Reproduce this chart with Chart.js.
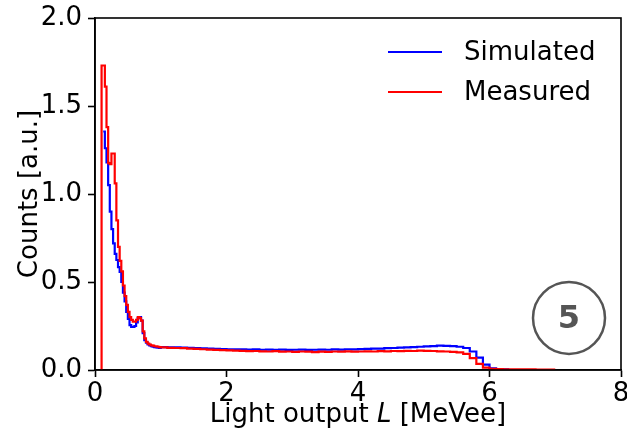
<!DOCTYPE html>
<html>
<head>
<meta charset="utf-8">
<script src="https://cdn.jsdelivr.net/npm/chart.js@4.4.1/dist/chart.umd.min.js"></script>
<style>
  html, body { margin: 0; padding: 0; background: #fff; }
  canvas { display: block; }
</style>
</head>
<body>
<canvas id="lightChart" width="627" height="435"></canvas>
<script>
// bin edges in MeVee (left edge of every bin, last value closes the last bin)
const binEdges = [
  0.09, 0.1, 0.125, 0.15, 0.175, 0.2, 0.225, 0.25, 0.275, 0.3, 0.325, 0.35, 0.375,
  0.4, 0.425, 0.45, 0.475, 0.5, 0.525, 0.55, 0.575, 0.6, 0.625, 0.65, 0.675, 0.7,
  0.725, 0.75, 0.775, 0.8, 0.825, 0.85, 0.875, 0.9, 0.925, 0.95, 0.975,
  1.0, 1.1, 1.2, 1.3, 1.4, 1.5, 1.6, 1.7, 1.8, 1.9,
  2.0, 2.1, 2.2, 2.3, 2.4, 2.5, 2.6, 2.7, 2.8, 2.9,
  3.0, 3.1, 3.2, 3.3, 3.4, 3.5, 3.6, 3.7, 3.8, 3.9,
  4.0, 4.1, 4.2, 4.3, 4.4, 4.5, 4.6, 4.7, 4.8, 4.9,
  5.0, 5.1, 5.2, 5.3, 5.4, 5.5, 5.6, 5.7, 5.8, 5.9,
  6.0, 6.1, 6.2, 6.3, 6.4, 6.5, 6.6, 6.7, 6.8, 6.9,
  7.0
];

// counts per bin
const simulated = [
  null,
  null, 1.355, 1.26, 1.18, 1.05, 0.90, 0.80, 0.72, 0.66, 0.625, 0.585, 0.557,
  0.50, 0.44, 0.39, 0.33, 0.29, 0.255, 0.245, 0.245, 0.25, 0.27, 0.295, 0.30, 0.28,
  0.21, 0.17, 0.155, 0.145, 0.14, 0.135, 0.132, 0.13, 0.128, 0.127, 0.126,
  0.13, 0.129, 0.128, 0.127, 0.126, 0.124, 0.123, 0.121, 0.12, 0.119,
  0.118, 0.117, 0.118, 0.116, 0.117, 0.115, 0.116, 0.115, 0.116, 0.114,
  0.115, 0.116, 0.114, 0.115, 0.116, 0.115, 0.117, 0.116, 0.118, 0.117,
  0.119, 0.12, 0.121, 0.122, 0.124, 0.125, 0.127, 0.129, 0.13, 0.132,
  0.134, 0.136, 0.138, 0.137, 0.136, 0.132, 0.125, 0.105, 0.07, 0.03,
  0.01, 0.005, 0.003, null, null, null, null, null, null, null
];

const measured = [
  0,
  1.73, 1.73, 1.61, 1.38, 1.175, 1.17, 1.23, 1.23, 1.06, 0.85, 0.70, 0.62,
  0.56, 0.48, 0.42, 0.37, 0.33, 0.30, 0.285, 0.275, 0.275, 0.285, 0.30, 0.295, 0.28,
  0.22, 0.18, 0.16, 0.15, 0.145, 0.14, 0.138, 0.135, 0.134, 0.132, 0.13,
  0.128, 0.126, 0.125, 0.124, 0.121, 0.12, 0.118, 0.116, 0.114, 0.113,
  0.112, 0.110, 0.109, 0.107, 0.108, 0.106, 0.105, 0.107, 0.104, 0.105,
  0.103, 0.105, 0.104, 0.102, 0.104, 0.103, 0.105, 0.104, 0.106, 0.104,
  0.105, 0.106, 0.105, 0.107, 0.106, 0.108, 0.107, 0.109, 0.108, 0.110,
  0.109, 0.108, 0.106, 0.105, 0.103, 0.100, 0.092, 0.068, 0.035, 0.014,
  0.007, 0.005, 0.004, 0.004, 0.003, 0.003, 0.003, 0.002, 0.002, 0.002
];

const xTicks = [0, 2, 4, 6, 8];
const yTicks = [0.0, 0.5, 1.0, 1.5, 2.0];

const FONT = '"DejaVu Sans", "Liberation Sans", sans-serif';

// turns bin values into points for a stepped line (closes each run of bins)
function histPoints(vals) {
  const pts = [];
  for (let i = 0; i < vals.length; i++) {
    if (vals[i] === null) {
      pts.push({ x: binEdges[i], y: null });
      continue;
    }
    pts.push({ x: binEdges[i], y: vals[i] });
    if (i === vals.length - 1 || vals[i + 1] === null) {
      pts.push({ x: binEdges[i + 1], y: vals[i] });
    }
  }
  return pts;
}

// frame, legend, x title with italic L, and the circled number
const extras = {
  id: "extras",
  afterDraw(chart) {
    const { ctx, chartArea: a } = chart;
    ctx.save();
    ctx.strokeStyle = "#000";
    ctx.lineWidth = 1.6;
    ctx.strokeRect(a.left, a.top, a.right - a.left, a.bottom - a.top);

    // legend
    ctx.font = "26px " + FONT;
    ctx.textBaseline = "middle";
    ctx.textAlign = "left";
    chart.data.datasets.forEach((ds, i) => {
      const y = 52 + i * 40;
      ctx.strokeStyle = ds.borderColor;
      ctx.lineWidth = 2;
      ctx.beginPath();
      ctx.moveTo(388, y);
      ctx.lineTo(442, y);
      ctx.stroke();
      ctx.fillStyle = "#000";
      ctx.fillText(ds.label, 464, y + 1);
    });

    // x axis title
    const parts = [
      { t: "Light output ", f: "26px " + FONT },
      { t: "L", f: "italic 26px " + FONT },
      { t: " [MeVee]", f: "26px " + FONT },
    ];
    let w = 0;
    parts.forEach((p) => { ctx.font = p.f; p.w = ctx.measureText(p.t).width; w += p.w; });
    let x = (a.left + a.right) / 2 - w / 2;
    ctx.textBaseline = "alphabetic";
    ctx.fillStyle = "#000";
    parts.forEach((p) => { ctx.font = p.f; ctx.fillText(p.t, x, 422); x += p.w; });

    // circled 5
    ctx.strokeStyle = "#555";
    ctx.lineWidth = 2.5;
    ctx.beginPath();
    ctx.arc(569, 318, 36, 0, Math.PI * 2);
    ctx.stroke();
    ctx.fillStyle = "#555";
    ctx.font = "bold 32px " + FONT;
    ctx.textAlign = "center";
    ctx.textBaseline = "middle";
    ctx.fillText("5", 569, 320);
    ctx.restore();
  },
};

new Chart(document.getElementById("lightChart"), {
  type: "line",
  data: {
    datasets: [
      {
        label: "Simulated",
        data: histPoints(simulated),
        borderColor: "#0000ff",
        borderWidth: 2.2,
        stepped: true,
        pointRadius: 0,
        order: 1,
      },
      {
        label: "Measured",
        data: histPoints(measured),
        borderColor: "#ff0000",
        borderWidth: 2.2,
        stepped: true,
        pointRadius: 0,
        order: 0,
      },
    ],
  },
  options: {
    responsive: false,
    animation: false,
    devicePixelRatio: 1,
    layout: { padding: { top: 18, right: 6, left: 0, bottom: 0 } },
    plugins: { legend: { display: false }, tooltip: { enabled: false } },
    scales: {
      x: {
        type: "linear",
        min: 0,
        max: 8,
        afterBuildTicks: (s) => { s.ticks = xTicks.map((v) => ({ value: v })); },
        afterFit: (s) => { s.height = 65; s.paddingLeft = 0; s.paddingRight = 0; },
        ticks: { color: "#000", font: { family: FONT, size: 26 }, padding: 2, maxRotation: 0 },
        grid: { drawOnChartArea: false, tickLength: 7, tickWidth: 1.6, tickColor: "#000" },
        border: { color: "#000", width: 1.6 },
      },
      y: {
        min: 0,
        max: 2,
        afterBuildTicks: (s) => { s.ticks = yTicks.map((v) => ({ value: v })); },
        afterFit: (s) => { s.width = 95; s.paddingTop = 0; s.paddingBottom = 0; },
        ticks: {
          color: "#000",
          font: { family: FONT, size: 26 },
          padding: 6,
          callback: (v) => v.toFixed(1),
        },
        grid: { drawOnChartArea: false, tickLength: 7, tickWidth: 1.6, tickColor: "#000" },
        border: { color: "#000", width: 1.6 },
        title: {
          display: true,
          text: "Counts [a.u.]",
          color: "#000",
          font: { family: FONT, size: 26 },
          padding: { top: 15, bottom: 0 },
        },
      },
    },
  },
  plugins: [extras],
});
</script>
</body>
</html>
